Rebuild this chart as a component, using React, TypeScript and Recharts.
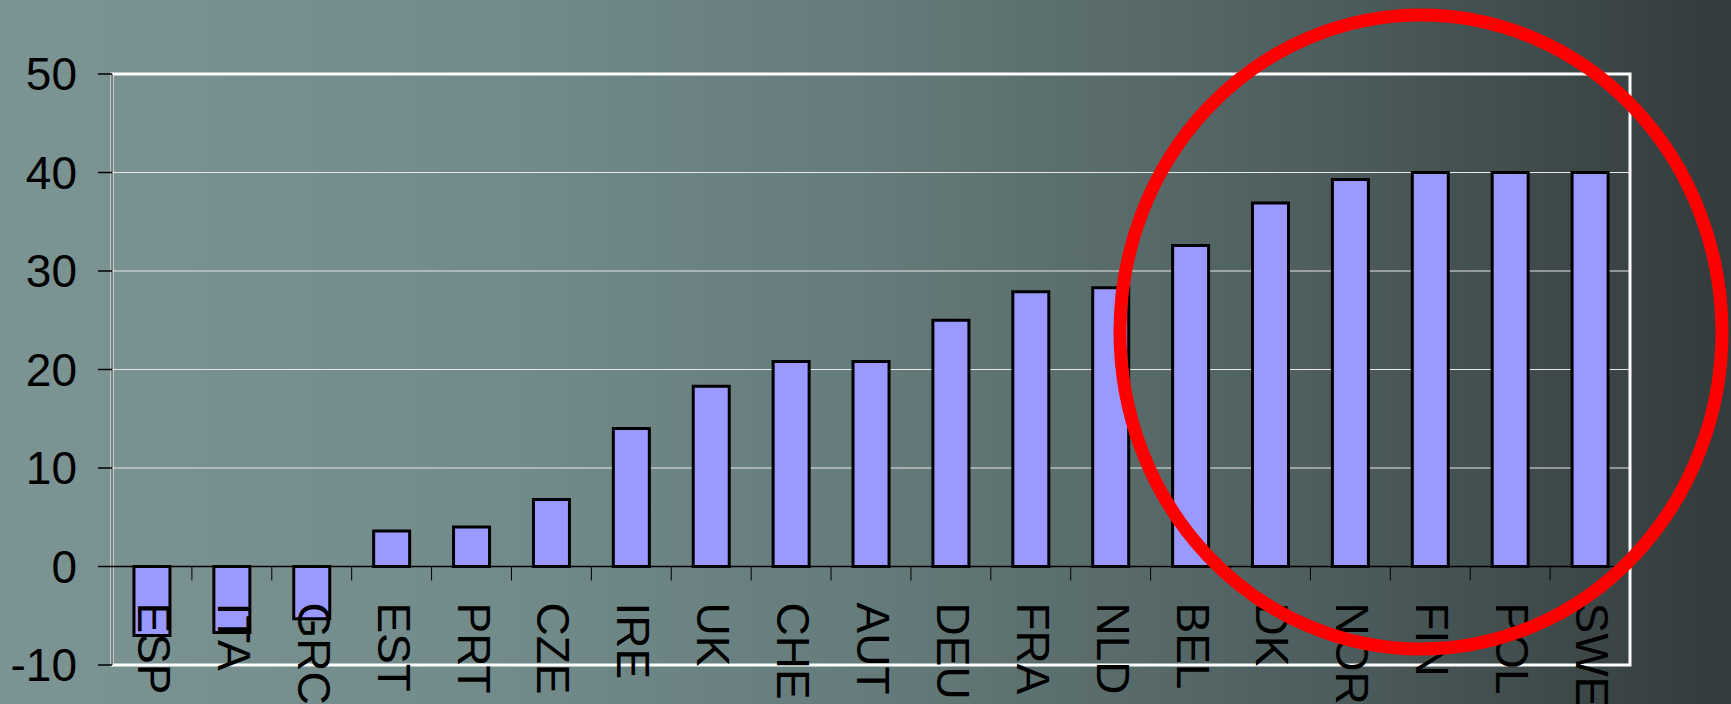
import React from "react";
import { BarChart, Bar, XAxis, YAxis, CartesianGrid, ReferenceLine, ReferenceArea } from "recharts";

const countries = ["ESP", "ITA", "GRC", "EST", "PRT", "CZE", "IRE", "UK", "CHE", "AUT", "DEU", "FRA", "NLD", "BEL", "DK", "NOR", "FIN", "POL", "SWE"];
const values = [-7.0, -6.7, -5.3, 3.6, 4.0, 6.8, 14.0, 18.3, 20.8, 20.8, 25.0, 27.9, 28.3, 32.6, 36.9, 39.3, 40.0, 40.0, 40.0];
const yTicks = [-10, 0, 10, 20, 30, 40, 50];

const data = countries.map((c, i) => ({ country: c, value: values[i] }));

const W = 1731;
const H = 704;
const M = { top: 74, right: 101, bottom: 0, left: 0 };
const Y_AXIS_W = 112;
const X_AXIS_H = 39;
const FONT = '"Liberation Sans", Arial, sans-serif';

const plotTop = M.top;
const plotH = H - M.top - M.bottom - X_AXIS_H;
const plotW = W - M.left - M.right - Y_AXIS_W;
const band = plotW / countries.length;
// pixel row of the value 0 on the y scale (domain -10..50)
const zeroY = plotTop + (plotH * 50) / 60;

const CountryTick = (props: any) => {
  const { x, payload, index } = props;
  return (
    <g>
      {index < countries.length - 1 && (
        <line x1={x + band / 2} x2={x + band / 2} y1={zeroY} y2={zeroY + 14} stroke="#000" strokeWidth={1} />
      )}
      <text
        transform={`translate(${x + 2},${zeroY + 36}) rotate(90)`}
        textAnchor="start"
        dominantBaseline="central"
        fontSize={46}
        fontFamily={FONT}
        fill="#000"
      >
        {payload.value}
      </text>
    </g>
  );
};

export default function App() {
  return (
    <div
      style={{
        position: "absolute",
        left: 0,
        top: 0,
        width: W,
        height: H,
        overflow: "hidden",
        background: "linear-gradient(to right, #7c9494 0%, #728a8a 30%, #667b7b 50%, #4f5f5f 75%, #333b3c 100%)",
      }}
    >
      <BarChart width={W} height={H} data={data} margin={M} barCategoryGap="27.5%">
        <CartesianGrid horizontal vertical={false} stroke="#e8e8e8" strokeWidth={1} />
        <ReferenceArea y1={-10} y2={50} fill="none" stroke="#ffffff" strokeWidth={3} ifOverflow="visible" />
        <XAxis
          dataKey="country"
          height={X_AXIS_H}
          axisLine={false}
          tickLine={false}
          interval={0}
          tick={<CountryTick />}
        />
        <YAxis
          width={Y_AXIS_W}
          domain={[-10, 50]}
          ticks={yTicks}
          interval={0}
          tickSize={14}
          tickMargin={21}
          axisLine={{ stroke: "#000", strokeWidth: 1 }}
          tickLine={{ stroke: "#000", strokeWidth: 1.5 }}
          tick={{ fontSize: 46, fontFamily: FONT, fill: "#000" }}
        />
        <ReferenceLine y={0} stroke="#000" strokeWidth={1.5} />
        <Bar dataKey="value" fill="#9999ff" stroke="#000" strokeWidth={3} isAnimationActive={false} />
      </BarChart>
      <svg width={W} height={H} style={{ position: "absolute", left: 0, top: 0, pointerEvents: "none" }}>
        <ellipse cx={1421} cy={332} rx={301} ry={317} fill="none" stroke="#ff0000" strokeWidth={13} />
      </svg>
    </div>
  );
}
